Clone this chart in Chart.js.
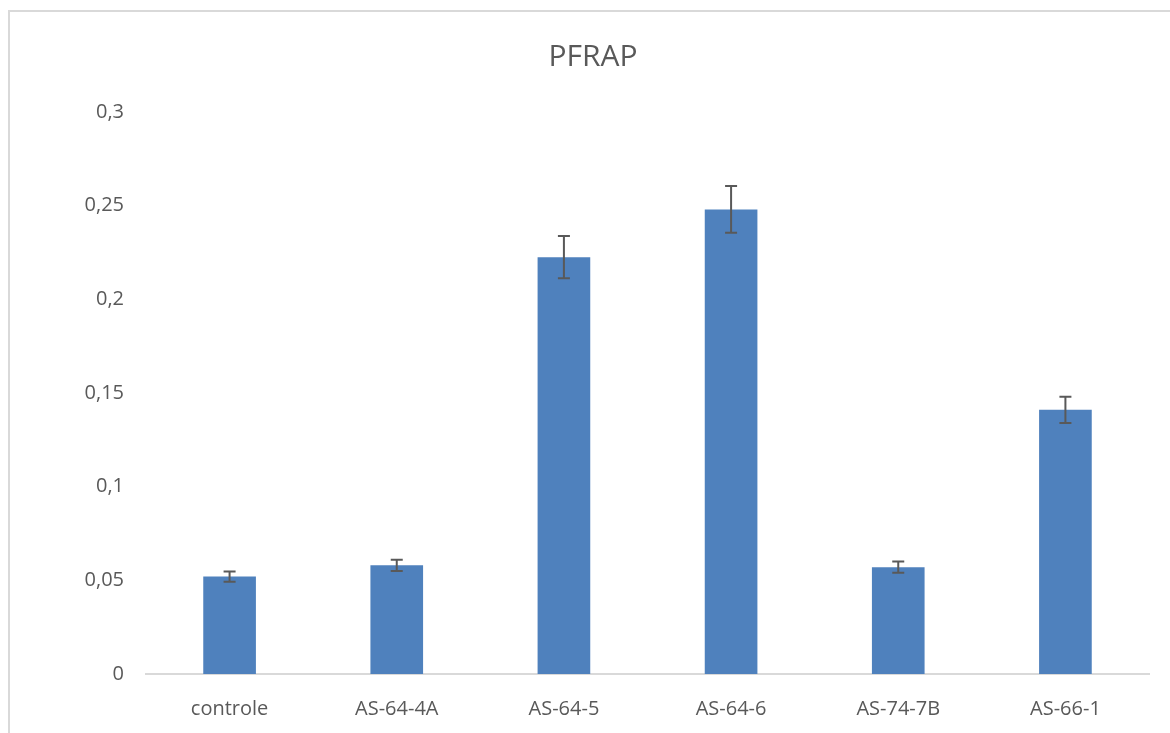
<!DOCTYPE html>
<html>
<head>
<meta charset="utf-8">
<script src="https://cdn.jsdelivr.net/npm/chart.js@4"></script>
<style>
  html, body { margin: 0; padding: 0; background: #fff; overflow: hidden; }
  #frame { position: absolute; left: 8px; top: 10px; width: 1300px; height: 900px; border: 2px solid #d9d9d9; }
  #wrap { position: absolute; left: 0; top: 0; width: 1170px; height: 733px; }
</style>
</head>
<body>
<div id="frame"></div>
<div id="wrap"><canvas id="chart" width="1170" height="733"></canvas></div>
<script>
// data
const categories = ['controle', 'AS-64-4A', 'AS-64-5', 'AS-64-6', 'AS-74-7B', 'AS-66-1']
const values = [0.052, 0.058, 0.2225, 0.248, 0.057, 0.141]
const errors = [0.0027, 0.003, 0.0113, 0.0125, 0.003, 0.007]
const yTicks = [0, 0.05, 0.1, 0.15, 0.2, 0.25, 0.3]

const textColor = '#595959'
const fontFamily = '"Open Sans", sans-serif'

// error bars drawn through the scales
const errorBars = {
    id: 'errorBars',
    afterDatasetsDraw(chart) {
        const ctx = chart.ctx
        const y = chart.scales.y
        const meta = chart.getDatasetMeta(0)
        ctx.save()
        ctx.strokeStyle = textColor
        ctx.lineWidth = 2
        meta.data.forEach((bar, i) => {
            const top = y.getPixelForValue(values[i] + errors[i])
            const bot = y.getPixelForValue(values[i] - errors[i])
            const x = bar.x
            ctx.beginPath()
            ctx.moveTo(x, top); ctx.lineTo(x, bot)
            ctx.moveTo(x - 6, top); ctx.lineTo(x + 6, top)
            ctx.moveTo(x - 6, bot); ctx.lineTo(x + 6, bot)
            ctx.stroke()
        })
        ctx.restore()
    }
}

new Chart(document.getElementById('chart'), {
    type: 'bar',
    data: {
        labels: categories,
        datasets: [{
            label: 'PFRAP',
            data: values,
            backgroundColor: '#4f81bd',
            barPercentage: 0.315,
            categoryPercentage: 1
        }]
    },
    options: {
        responsive: false,
        animation: false,
        devicePixelRatio: 1,
        layout: { padding: { top: 24, right: 21, bottom: 0, left: 37 } },
        plugins: {
            legend: { display: false },
            tooltip: { enabled: false },
            title: {
                display: true,
                text: 'PFRAP',
                color: textColor,
                font: { family: fontFamily, size: 30, weight: 'normal' },
                padding: { top: 15, bottom: 37 }
            }
        },
        scales: {
            x: {
                grid: { display: false },
                border: { display: true, color: '#d9d9d9', width: 2 },
                ticks: { color: textColor, font: { family: fontFamily, size: 20 }, padding: 15, maxRotation: 0 },
                afterFit(scale) { scale.height = 59 }
            },
            y: {
                min: 0,
                max: 0.3,
                grid: { display: false, drawTicks: false },
                border: { display: false },
                afterBuildTicks(scale) { scale.ticks = yTicks.map(v => ({ value: v })) },
                ticks: {
                    color: textColor,
                    font: { family: fontFamily, size: 20 },
                    padding: 22,
                    callback: v => String(v).replace('.', ',')
                },
                afterFit(scale) { scale.width = 109 }
            }
        }
    },
    plugins: [errorBars]
})
</script>
</body>
</html>
